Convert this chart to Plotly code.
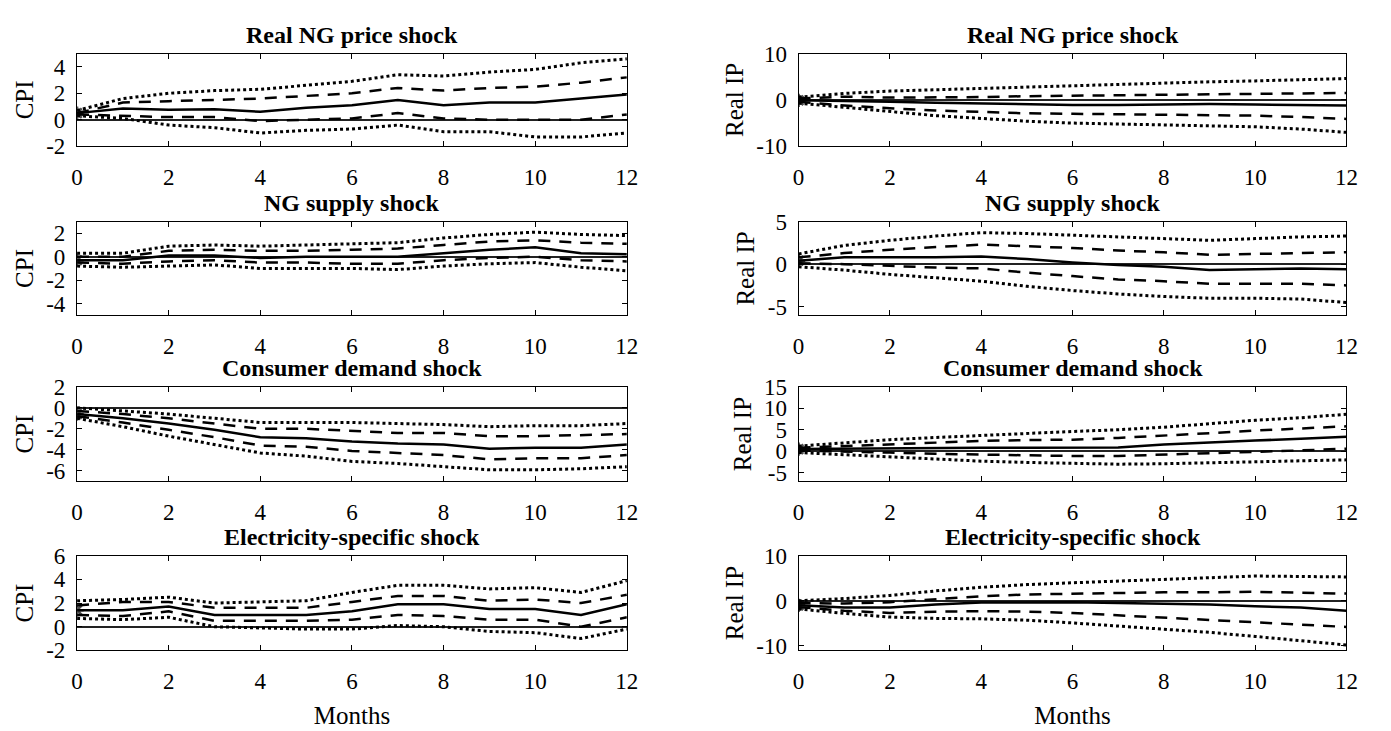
import plotly.graph_objects as go

months = list(range(13))
x_ticks = [0, 2, 4, 6, 8, 10, 12]

# ---- CPI, Real NG price shock ----
cpi_price_med = [0.5, 0.85, 0.75, 0.8, 0.6, 0.9, 1.1, 1.5, 1.1, 1.3, 1.3, 1.6, 1.9]
cpi_price_up68 = [0.5, 1.3, 1.4, 1.5, 1.6, 1.8, 2.0, 2.4, 2.2, 2.4, 2.5, 2.8, 3.2]
cpi_price_lo68 = [0.4, 0.3, 0.2, 0.2, -0.1, 0.0, 0.1, 0.5, 0.1, 0.0, 0.0, 0.0, 0.4]
cpi_price_up90 = [0.7, 1.6, 2.0, 2.2, 2.3, 2.6, 2.9, 3.4, 3.3, 3.6, 3.8, 4.3, 4.6]
cpi_price_lo90 = [0.3, 0.1, -0.4, -0.6, -1.0, -0.8, -0.7, -0.4, -0.9, -0.9, -1.3, -1.3, -1.0]

# ---- Real IP, Real NG price shock ----
ip_price_med = [-0.1, -0.2, -0.4, -0.6, -0.8, -1.0, -1.1, -1.1, -1.0, -0.9, -1.0, -1.1, -1.2]
ip_price_up68 = [0.3, 0.7, 0.5, 0.5, 0.6, 0.8, 0.9, 1.0, 1.1, 1.2, 1.3, 1.4, 1.5]
ip_price_lo68 = [-0.4, -1.2, -1.8, -2.3, -2.6, -2.9, -3.0, -3.1, -3.1, -3.2, -3.4, -3.7, -4.1]
ip_price_up90 = [0.6, 1.4, 1.9, 2.2, 2.5, 2.8, 3.0, 3.3, 3.6, 3.9, 4.1, 4.3, 4.6]
ip_price_lo90 = [-0.7, -1.6, -2.6, -3.4, -4.0, -4.6, -5.0, -5.2, -5.3, -5.5, -5.8, -6.3, -7.0]

# ---- CPI, NG supply shock ----
cpi_supply_med = [-0.3, -0.3, 0.1, 0.1, -0.1, 0.0, 0.0, 0.0, 0.3, 0.6, 0.8, 0.3, 0.2]
cpi_supply_up68 = [0.0, 0.0, 0.5, 0.6, 0.5, 0.5, 0.6, 0.7, 1.0, 1.3, 1.4, 1.2, 1.1]
cpi_supply_lo68 = [-0.5, -0.6, -0.4, -0.3, -0.5, -0.5, -0.6, -0.6, -0.3, -0.1, 0.0, -0.3, -0.4]
cpi_supply_up90 = [0.3, 0.3, 0.9, 1.0, 0.9, 1.0, 1.1, 1.2, 1.6, 1.9, 2.1, 1.9, 1.8]
cpi_supply_lo90 = [-0.8, -0.9, -0.8, -0.7, -1.0, -1.0, -1.0, -1.1, -0.8, -0.6, -0.5, -0.9, -1.2]

# ---- Real IP, NG supply shock ----
ip_supply_med = [0.4, 0.8, 0.8, 0.8, 0.9, 0.6, 0.2, -0.1, -0.3, -0.7, -0.6, -0.5, -0.6]
ip_supply_up68 = [0.8, 1.3, 1.7, 2.0, 2.3, 2.1, 1.9, 1.6, 1.4, 1.1, 1.2, 1.3, 1.4]
ip_supply_lo68 = [0.1, 0.0, -0.2, -0.4, -0.5, -1.0, -1.4, -1.8, -2.0, -2.3, -2.3, -2.3, -2.5]
ip_supply_up90 = [1.2, 2.2, 2.8, 3.3, 3.7, 3.6, 3.4, 3.2, 3.0, 2.8, 3.0, 3.2, 3.3]
ip_supply_lo90 = [-0.3, -0.7, -1.2, -1.6, -2.0, -2.6, -3.1, -3.5, -3.8, -4.0, -4.0, -4.1, -4.5]

# ---- CPI, Consumer demand shock ----
cpi_demand_med = [-0.6, -1.0, -1.5, -2.1, -2.8, -2.9, -3.2, -3.4, -3.5, -3.9, -3.8, -3.8, -3.5]
cpi_demand_up68 = [-0.3, -0.6, -1.0, -1.5, -2.0, -2.0, -2.2, -2.4, -2.4, -2.7, -2.7, -2.6, -2.5]
cpi_demand_lo68 = [-0.8, -1.4, -2.1, -2.8, -3.6, -3.7, -4.1, -4.3, -4.5, -4.9, -4.8, -4.8, -4.5]
cpi_demand_up90 = [0.0, -0.3, -0.6, -1.0, -1.4, -1.4, -1.4, -1.5, -1.6, -1.8, -1.7, -1.7, -1.5]
cpi_demand_lo90 = [-1.0, -1.8, -2.7, -3.5, -4.3, -4.6, -5.1, -5.3, -5.6, -5.9, -5.9, -5.8, -5.6]

# ---- Real IP, Consumer demand shock ----
ip_demand_med = [0.5, 0.6, 0.7, 0.8, 0.8, 0.8, 0.8, 0.9, 1.6, 2.1, 2.5, 2.9, 3.4]
ip_demand_up68 = [0.8, 1.2, 1.7, 2.1, 2.4, 2.6, 2.7, 3.1, 3.6, 4.2, 4.8, 5.3, 5.8]
ip_demand_lo68 = [0.2, 0.0, -0.3, -0.6, -0.8, -1.0, -1.1, -1.1, -0.8, -0.4, -0.1, 0.2, 0.6]
ip_demand_up90 = [1.2, 2.0, 2.7, 3.2, 3.7, 4.2, 4.6, 5.0, 5.6, 6.4, 7.2, 7.8, 8.6]
ip_demand_lo90 = [-0.3, -0.8, -1.4, -1.9, -2.3, -2.6, -2.8, -3.0, -2.9, -2.7, -2.5, -2.3, -2.0]

# ---- CPI, Electricity-specific shock ----
cpi_elec_med = [1.4, 1.4, 1.7, 1.0, 1.0, 1.0, 1.3, 1.9, 1.9, 1.5, 1.5, 1.0, 1.9]
cpi_elec_up68 = [1.8, 2.1, 2.1, 1.6, 1.6, 1.6, 2.1, 2.6, 2.6, 2.2, 2.3, 2.0, 2.7]
cpi_elec_lo68 = [1.0, 0.9, 1.3, 0.5, 0.5, 0.5, 0.6, 1.0, 0.9, 0.6, 0.6, 0.0, 0.8]
cpi_elec_up90 = [2.2, 2.3, 2.5, 2.0, 2.1, 2.2, 2.9, 3.5, 3.5, 3.2, 3.3, 2.9, 3.9]
cpi_elec_lo90 = [0.7, 0.6, 0.8, 0.0, -0.1, -0.2, -0.2, 0.1, 0.0, -0.4, -0.5, -1.0, -0.2]

# ---- Real IP, Electricity-specific shock ----
ip_elec_med = [-1.0, -1.5, -1.5, -0.8, -0.4, -0.3, -0.3, -0.5, -0.7, -0.8, -1.2, -1.5, -2.2]
ip_elec_up68 = [-0.5, -0.6, -0.3, 0.4, 1.0, 1.4, 1.6, 1.8, 1.9, 1.9, 2.0, 1.8, 1.6]
ip_elec_lo68 = [-1.4, -2.2, -2.7, -2.4, -2.3, -2.4, -2.7, -3.2, -3.7, -4.2, -4.8, -5.3, -5.8]
ip_elec_up90 = [0.0, 0.5, 1.2, 2.2, 3.0, 3.6, 4.0, 4.4, 4.8, 5.2, 5.5, 5.4, 5.3]
ip_elec_lo90 = [-1.8, -2.8, -3.6, -3.9, -4.0, -4.3, -4.9, -5.6, -6.3, -7.0, -7.9, -8.8, -9.8]

titles = ["Real NG price shock", "NG supply shock", "Consumer demand shock", "Electricity-specific shock"]
cpi_ranges = [[-2, 5], [-5, 3], [-7, 2], [-2, 6]]
cpi_tickvals = [[-2, 0, 2, 4], [-4, -2, 0, 2], [-6, -4, -2, 0, 2], [-2, 0, 2, 4, 6]]
ip_ranges = [[-10, 10], [-6, 5], [-7, 15], [-11, 10]]
ip_tickvals = [[-10, 0, 10], [-5, 0, 5], [-5, 0, 5, 10, 15], [-10, 0, 10]]

panels_cpi = [
    (cpi_price_med, cpi_price_up68, cpi_price_lo68, cpi_price_up90, cpi_price_lo90),
    (cpi_supply_med, cpi_supply_up68, cpi_supply_lo68, cpi_supply_up90, cpi_supply_lo90),
    (cpi_demand_med, cpi_demand_up68, cpi_demand_lo68, cpi_demand_up90, cpi_demand_lo90),
    (cpi_elec_med, cpi_elec_up68, cpi_elec_lo68, cpi_elec_up90, cpi_elec_lo90),
]
panels_ip = [
    (ip_price_med, ip_price_up68, ip_price_lo68, ip_price_up90, ip_price_lo90),
    (ip_supply_med, ip_supply_up68, ip_supply_lo68, ip_supply_up90, ip_supply_lo90),
    (ip_demand_med, ip_demand_up68, ip_demand_lo68, ip_demand_up90, ip_demand_lo90),
    (ip_elec_med, ip_elec_up68, ip_elec_lo68, ip_elec_up90, ip_elec_lo90),
]

W, H = 1391, 731
col_x = [(72, 629), (803, 1358)]
row_y = [(43, 139), (217, 314), (388, 486), (563, 661)]

FONT = "Liberation Serif"
TS = 23   # tick labels
AS = 25   # axis titles
TTS = 24  # panel titles
fig = go.Figure()
layout = dict(
    width=W, height=H, margin=dict(l=0, r=0, t=0, b=0),
    paper_bgcolor="white", plot_bgcolor="white", showlegend=False,
    font=dict(family=FONT, size=TS, color="black"),
)
annotations = []

idx = 0
for r in range(4):
    for c in range(2):
        idx += 1
        xa = "x" if idx == 1 else f"x{idx}"
        ya = "y" if idx == 1 else f"y{idx}"
        data = panels_cpi[r] if c == 0 else panels_ip[r]
        med, up68, lo68, up90, lo90 = data
        for series, dash, wdt in [(up90, "dot", 3), (lo90, "dot", 3),
                                  (up68, "12px,9px", 2.5), (lo68, "12px,9px", 2.5)]:
            fig.add_trace(go.Scatter(x=months, y=series, mode="lines", xaxis=xa, yaxis=ya,
                                     line=dict(color="black", width=wdt, dash=dash),
                                     hoverinfo="skip"))
        fig.add_trace(go.Scatter(x=months, y=med, mode="lines+markers", xaxis=xa, yaxis=ya,
                                 line=dict(color="black", width=2.5),
                                 marker=dict(symbol="asterisk-open", color="black",
                                             size=[11] + [0] * 12,
                                             line=dict(color="black", width=2.5)),
                                 hoverinfo="skip"))
        x0, x1 = col_x[c]
        y0, y1 = row_y[r]
        xkey = "xaxis" if idx == 1 else f"xaxis{idx}"
        ykey = "yaxis" if idx == 1 else f"yaxis{idx}"
        layout[xkey] = dict(
            domain=[x0 / W, x1 / W], anchor=ya, range=[0, 12],
            tickvals=x_ticks, ticktext=[str(v) for v in x_ticks],
            ticks="inside", ticklen=5, tickcolor="black", showline=True, linecolor="black",
            linewidth=1.2, mirror="allticks", showgrid=False, zeroline=False,
            tickfont=dict(family=FONT, size=TS), ticklabelstandoff=10,
            title=dict(text="Months", font=dict(family=FONT, size=AS), standoff=13) if r == 3 else None,
        )
        yr = cpi_ranges[r] if c == 0 else ip_ranges[r]
        tv = cpi_tickvals[r] if c == 0 else ip_tickvals[r]
        layout[ykey] = dict(
            domain=[1 - y1 / H, 1 - y0 / H], anchor=xa, range=yr,
            tickvals=tv, ticktext=[f"{v:d}" for v in tv],
            ticks="inside", ticklen=5, tickcolor="black", showline=True, linecolor="black",
            linewidth=1.2, mirror="allticks", showgrid=False,
            zeroline=True, zerolinecolor="#222222", zerolinewidth=1.5,
            tickfont=dict(family=FONT, size=TS), ticklabelstandoff=6,
            title=dict(text="CPI" if c == 0 else "Real IP", font=dict(family=FONT, size=AS), standoff=5),
        )
        annotations.append(dict(
            text=f"<b>{titles[r]}</b>", xref="paper", yref="paper",
            x=(x0 + x1) / 2 / W, y=1 - (y0 - 4) / H, xanchor="center", yanchor="bottom",
            showarrow=False, font=dict(family=FONT, size=TTS, color="black"),
        ))

layout["annotations"] = annotations
fig.update_layout(**layout)
fig.write_html(
    "out.html",
    config={"displayModeBar": False},
    post_script="document.body.style.margin='0px';document.body.style.overflow='hidden';",
)
